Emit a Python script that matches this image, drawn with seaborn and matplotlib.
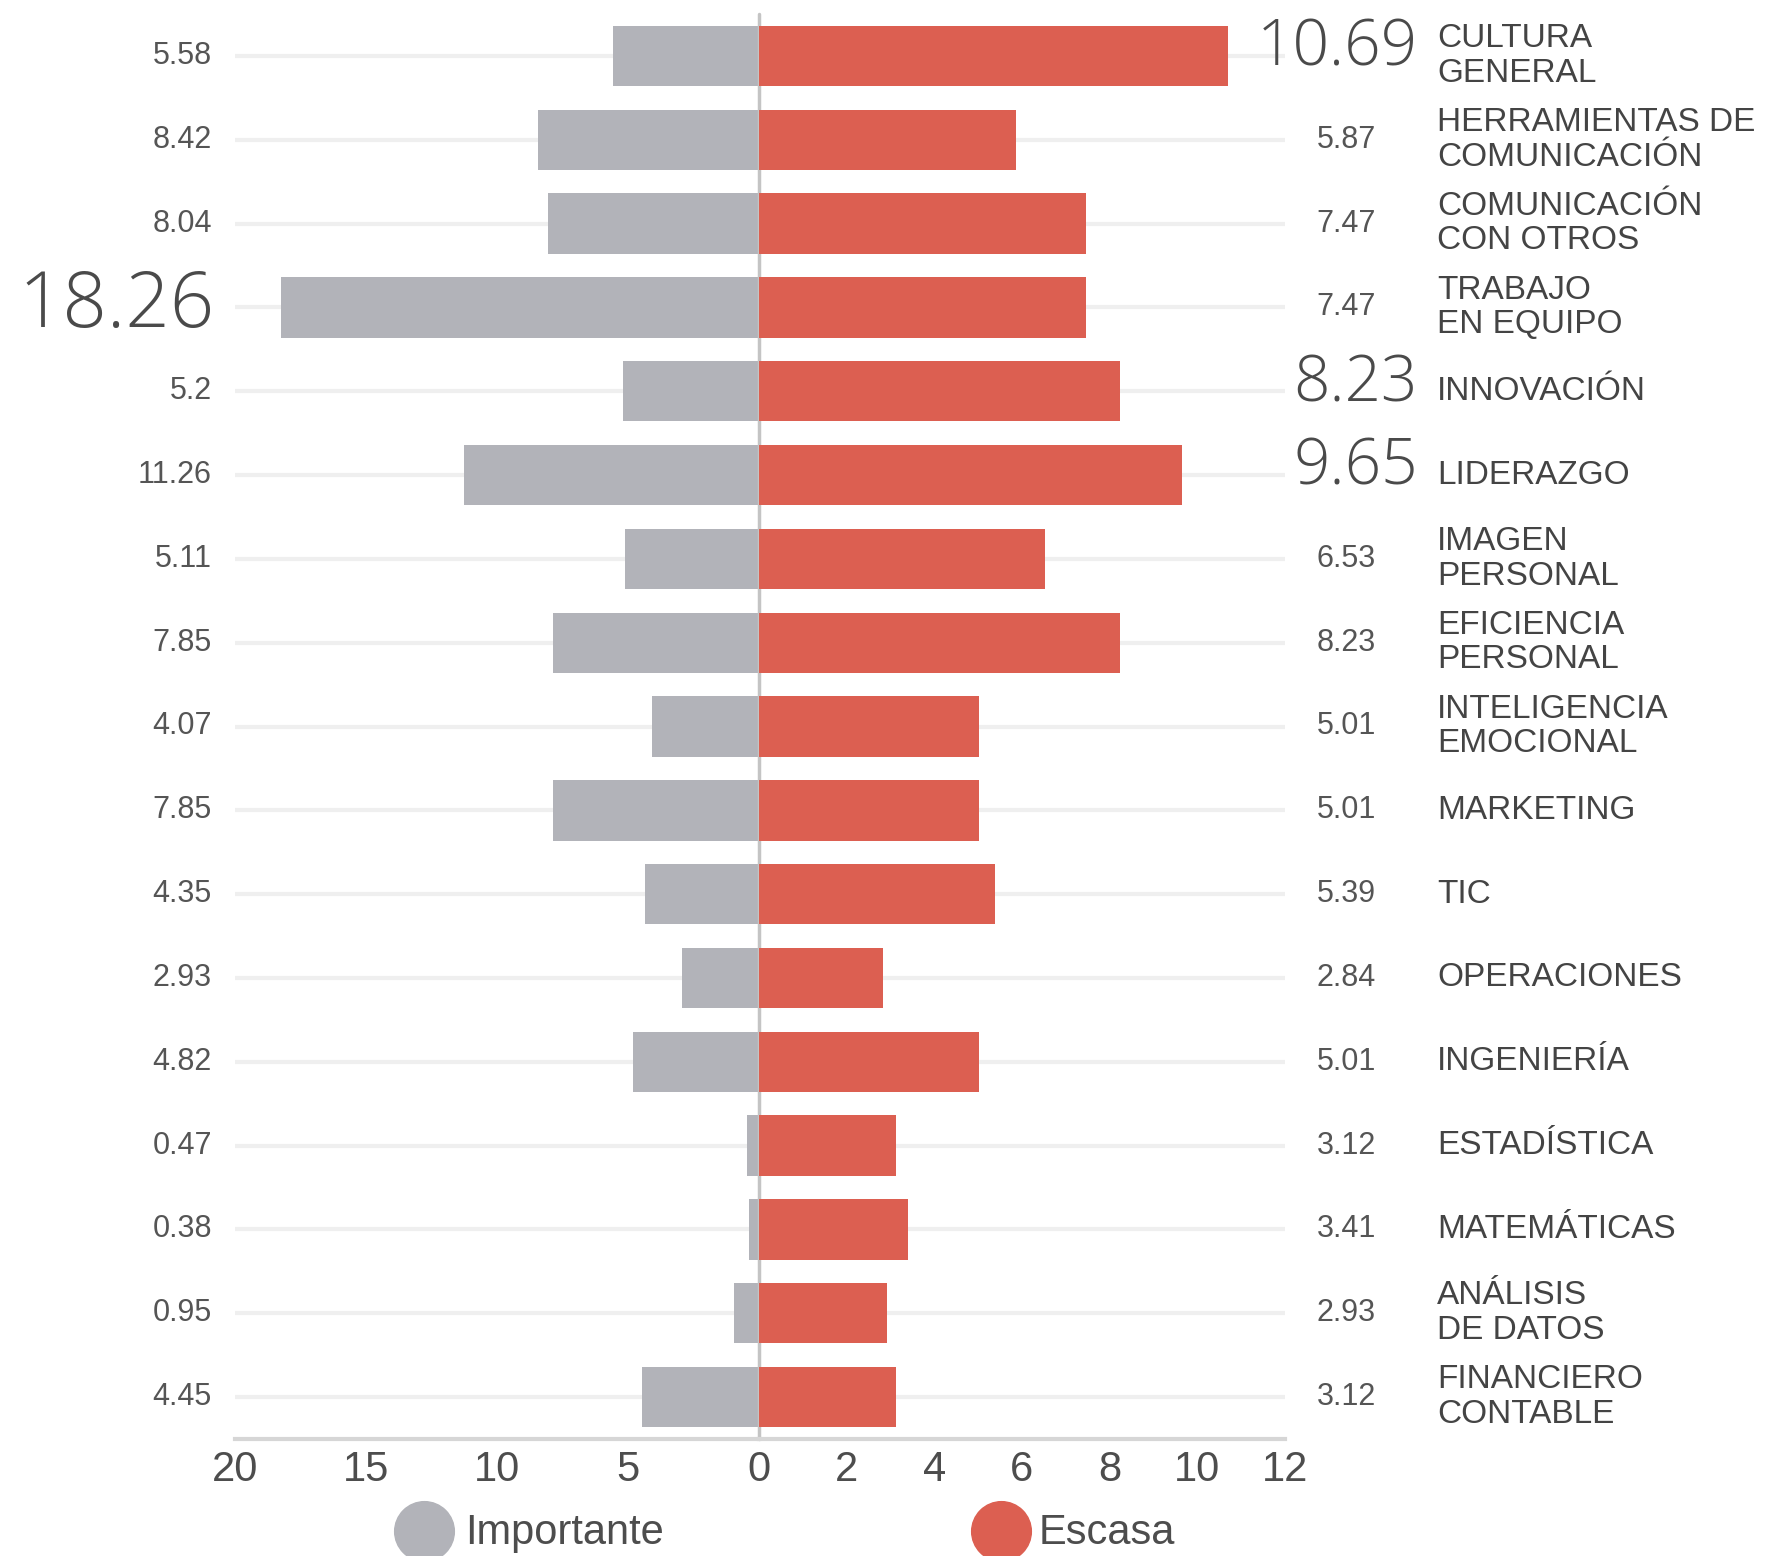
import pandas as pd
import seaborn as sns
import matplotlib.pyplot as plt
from matplotlib.lines import Line2D
from matplotlib.transforms import blended_transform_factory

# data
categorias = ["CULTURA\nGENERAL", "HERRAMIENTAS DE\nCOMUNICACIÓN", "COMUNICACIÓN\nCON OTROS",
              "TRABAJO\nEN EQUIPO", "INNOVACIÓN", "LIDERAZGO", "IMAGEN\nPERSONAL",
              "EFICIENCIA\nPERSONAL", "INTELIGENCIA\nEMOCIONAL", "MARKETING", "TIC",
              "OPERACIONES", "INGENIERÍA", "ESTADÍSTICA", "MATEMÁTICAS",
              "ANÁLISIS\nDE DATOS", "FINANCIERO\nCONTABLE"]
importante = [5.58, 8.42, 8.04, 18.26, 5.2, 11.26, 5.11, 7.85, 4.07, 7.85, 4.35,
              2.93, 4.82, 0.47, 0.38, 0.95, 4.45]
escasa = [10.69, 5.87, 7.47, 7.47, 8.23, 9.65, 6.53, 8.23, 5.01, 5.01, 5.39,
          2.84, 5.01, 3.12, 3.41, 2.93, 3.12]
destacado_imp = [3]
destacado_esc = [0, 4, 5]
ticks_imp = [20, 15, 10, 5]
ticks_esc = [0, 2, 4, 6, 8, 10, 12]

gris = "#B2B3B9"
rojo = "#DC5F51"
texto = "#4D4D4D"

sns.set_style("white")
plt.rcParams['font.family'] = ['Liberation Sans', 'DejaVu Sans']

df = pd.DataFrame({"cat": categorias, "importante": importante, "escasa": escasa})

W, H = 1771, 1556
fig = plt.figure(figsize=(W / 100, H / 100), dpi=100)
bottom = 1 - 1439 / H
height = 1425 / H
ax_l = fig.add_axes([235 / W, bottom, 524 / W, height])
ax_r = fig.add_axes([759 / W, bottom, 526 / W, height])

sns.barplot(data=df, x="importante", y="cat", orient="h", color=gris, saturation=1,
            width=0.72, errorbar=None, linewidth=0, ax=ax_l, zorder=3)
sns.barplot(data=df, x="escasa", y="cat", orient="h", color=rojo, saturation=1,
            width=0.72, errorbar=None, linewidth=0, ax=ax_r, zorder=3)

ax_l.set_xlim(20, 0)
ax_r.set_xlim(0, 12)
ax_l.set_xticks(ticks_imp)
ax_r.set_xticks(ticks_esc)
ax_r.axvline(0, color="#C4C4C4", lw=2.5, zorder=2, ymax=1.0, clip_on=False)

for ax in (ax_l, ax_r):
    ax.set_xlabel("")
    ax.set_ylabel("")
    ax.grid(axis="y", color="#EFEFEF", lw=3)
    ax.set_axisbelow(True)
    for s in ("top", "left", "right"):
        ax.spines[s].set_visible(False)
    ax.spines["bottom"].set_color("#D6D6D6")
    ax.spines["bottom"].set_linewidth(3)
    ax.tick_params(axis="y", length=0, labelleft=False)
    ax.tick_params(axis="x", direction="in", length=14, width=1.5, color="#D0D0D0",
                   labelsize=30, labelcolor=texto, pad=8)
    ax.patch.set_alpha(0)

# value labels
tl = blended_transform_factory(ax_l.transAxes, ax_l.transData)
tr = blended_transform_factory(ax_r.transAxes, ax_r.transData)
grande = dict(color="#4A4A4A", family=["Open Sans", "DejaVu Sans"], fontweight="light")
for i, v in enumerate(importante):
    if i in destacado_imp:
        ax_l.text(-0.038, i, f"{v:g}", transform=tl, ha="right", va="center",
                  fontsize=56, **grande)
    else:
        ax_l.text(-0.044, i, f"{v:g}", transform=tl, ha="right", va="center",
                  fontsize=22, color="#555555")
for i, v in enumerate(escasa):
    if i in destacado_esc:
        ax_r.text(1.253, i - 0.08, f"{v:g}", transform=tr, ha="right", va="center",
                  fontsize=46, **grande)
    else:
        ax_r.text(1.173, i, f"{v:g}", transform=tr, ha="right", va="center",
                  fontsize=22, color="#555555")
    ax_r.text(1.289, i, categorias[i], transform=tr, ha="left", va="center",
              fontsize=24, color="#444444", linespacing=1.15)

# legend
for cx, tx, col, lab in [(424, 465, gris, "Importante"), (1001, 1039, rojo, "Escasa")]:
    fig.add_artist(Line2D([cx / W], [1 - 1531 / H], marker="o", markersize=43,
                          color=col, transform=fig.transFigure))
    fig.text(tx / W, 1 - 1533 / H, lab, ha="left", va="center", fontsize=30, color=texto)

fig.savefig("out.png", dpi=100)
